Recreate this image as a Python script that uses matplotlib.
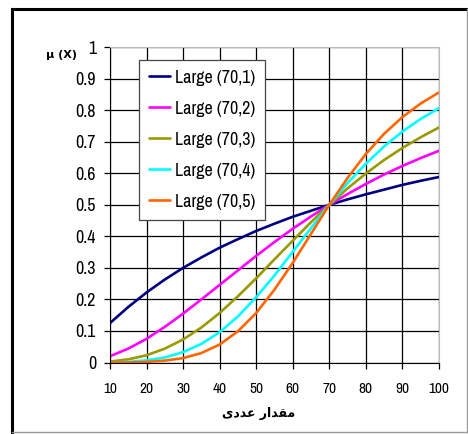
import numpy as np
import matplotlib
matplotlib.use('Agg')
import matplotlib.pyplot as plt
from matplotlib.lines import Line2D

plt.rcParams['font.family'] = ['Pragati Narrow', 'Liberation Sans', 'DejaVu Sans']

# x values (step 5) and membership values
x = [10, 15, 20, 25, 30, 35, 40, 45, 50, 55, 60, 65, 70, 75, 80, 85, 90, 95, 100]
large_1 = [0.125, 0.176, 0.222, 0.263, 0.300, 0.333, 0.364, 0.391, 0.417, 0.440,
           0.462, 0.481, 0.500, 0.517, 0.533, 0.548, 0.563, 0.576, 0.588]
large_2 = [0.020, 0.044, 0.075, 0.113, 0.155, 0.200, 0.246, 0.292, 0.338, 0.382,
           0.424, 0.463, 0.500, 0.534, 0.566, 0.596, 0.623, 0.648, 0.671]
large_3 = [0.003, 0.010, 0.023, 0.044, 0.073, 0.111, 0.157, 0.210, 0.267, 0.327,
           0.386, 0.445, 0.500, 0.552, 0.599, 0.642, 0.680, 0.714, 0.745]
large_4 = [0.000, 0.002, 0.007, 0.016, 0.033, 0.059, 0.096, 0.146, 0.207, 0.276,
           0.351, 0.426, 0.500, 0.569, 0.630, 0.685, 0.732, 0.772, 0.806]
large_5 = [0.000, 0.000, 0.002, 0.006, 0.014, 0.030, 0.057, 0.099, 0.157, 0.231,
           0.316, 0.408, 0.500, 0.585, 0.661, 0.725, 0.778, 0.821, 0.856]
labels = ['Large (70,1)', 'Large (70,2)', 'Large (70,3)', 'Large (70,4)', 'Large (70,5)']
colors = ['#000080', '#FF00FF', '#999900', '#00FFFF', '#FF6600']

xticks = [10, 20, 30, 40, 50, 60, 70, 80, 90, 100]
yticks = [0, 0.1, 0.2, 0.3, 0.4, 0.5, 0.6, 0.7, 0.8, 0.9, 1]
ytick_labels = ['0', '0.1', '0.2', '0.3', '0.4', '0.5', '0.6', '0.7', '0.8', '0.9', '1']

fig = plt.figure(figsize=(4.68, 4.34), dpi=100)
ax = fig.add_axes([0.235, 0.1647, 0.703, 0.727])

series = [large_1, large_2, large_3, large_4, large_5]
for ys, c, lab in zip(series, colors, labels):
    ax.plot(x, ys, color=c, lw=1.9, label=lab, solid_capstyle='round')

ax.set_xlim(10, 100)
ax.set_ylim(0, 1)
ax.set_xticks(xticks)
ax.set_yticks(yticks)
ax.set_yticklabels(ytick_labels)
ax.grid(True, color='black', lw=0.9)
ax.set_axisbelow(True)
ax.tick_params(axis='both', direction='out', length=4, width=0.9)
ax.tick_params(axis='y', pad=6, labelsize=14)
ax.tick_params(axis='x', pad=10, labelsize=12)
for s in ['top', 'right']:
    ax.spines[s].set_color('#bbbbbb')
for s in ['left', 'bottom']:
    ax.spines[s].set_color('black')

leg = ax.legend(loc='upper left', bbox_to_anchor=(0.088, 0.959), fancybox=False,
                framealpha=1, edgecolor='#444444', fontsize=14, handlelength=1.1,
                labelspacing=0.74, borderpad=0.5, handletextpad=0.25, borderaxespad=0)
leg.get_frame().set_linewidth(0.9)

fig.text(62 / 468, 1 - 55 / 434, 'µ (X)', ha='center', va='center', fontsize=8,
         fontweight='bold', family=['DejaVu Sans'])
# Persian x label, written in presentation forms (visual order)
xlab = '\uFBFC\uFEA9\uFEAA\uFECB \uFEAD\uFE8D\uFEAA\uFED8\uFEE3'
fig.text(259 / 468, 1 - 413 / 434, xlab, ha='center', va='center', fontsize=9,
         fontweight='bold', family=['DejaVu Sans'])

# outer frame
fig.add_artist(Line2D([12 / 468, 467 / 468], [1 - 9 / 434, 1 - 9 / 434], color='black', lw=2.2))
fig.add_artist(Line2D([12 / 468, 12 / 468], [1 - 9 / 434, 1 - 432 / 434], color='black', lw=2.2))
fig.add_artist(Line2D([12 / 468, 467 / 468], [1 - 432 / 434, 1 - 432 / 434], color='#999999', lw=1))
fig.add_artist(Line2D([467 / 468, 467 / 468], [1 - 9 / 434, 1 - 432 / 434], color='#999999', lw=1))

fig.savefig('out.png', dpi=100)
